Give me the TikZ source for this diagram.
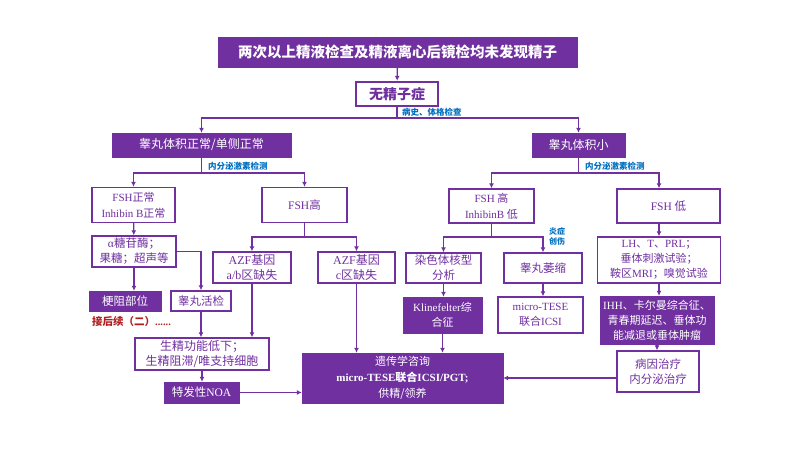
\documentclass[tikz,border=0pt]{standalone}
\usepackage{fontspec}
\setmainfont{Liberation Serif}
\newfontfamily\cjk{Noto Sans CJK SC}
\newcommand{\zh}[1]{{\cjk #1}}
\usetikzlibrary{arrows.meta,positioning,calc}
\definecolor{nopurple}{HTML}{7030A0}
\definecolor{noblue}{HTML}{0070C0}
\definecolor{nored}{HTML}{B01E1E}
\tikzset{
  flowline/.style={line width=1.4pt, draw=nopurple},
  flowarrow/.style={-{Latex[length=5pt,width=5pt]}, line width=1.4pt, draw=nopurple},
  boxsize/.style 2 args={minimum width=#1, minimum height=#2},
  darkbox/.style={draw=nopurple, fill=nopurple, text=white, align=center,
    inner sep=1pt, font=\fontsize{11.5}{15}\selectfont},
  lightbox/.style={draw=nopurple, line width=1.4pt, fill=white, text=nopurple,
    align=center, inner sep=1pt, font=\fontsize{11.5}{15}\selectfont},
  note/.style={text=noblue, inner sep=1pt, font=\fontsize{8.5}{10}\selectfont\bfseries},
  tailnote/.style={text=nored, inner sep=1pt, font=\fontsize{10.5}{12}\selectfont\bfseries}
}

\begin{document}
\begin{tikzpicture}[x=1pt, y=-1pt]
  \useasboundingbox (0,0) rectangle (800,450);
  \fill[white] (0,0) rectangle (800,450);

  % top
  \node[darkbox, boxsize={359pt}{30pt}, font=\fontsize{14.5}{16}\selectfont\bfseries] (title) at (397.5,52)
    {\zh{两次以上精液检查及精液离心后镜检均未发现精子}};
  \node[lightbox, boxsize={82pt}{24pt}, line width=2.4pt, font=\fontsize{14}{16}\selectfont\bfseries] (azo) at (397,94)
    {\zh{无精子症}};
  \node[darkbox, boxsize={179pt}{24pt}, font=\fontsize{12}{14}\selectfont] (tnorm) at (201.5,145)
    {\zh{睾丸体积正常/单侧正常}};
  \node[darkbox, boxsize={93pt}{24pt}, font=\fontsize{12}{14}\selectfont] (tsmall) at (578.5,145)
    {\zh{睾丸体积小}};

  % left branch
  \node[lightbox, boxsize={83pt}{35pt}, font=\fontsize{11}{16}\selectfont] (fshn) at (133.5,205)
    {FSH\zh{正常}\\Inhibin B\zh{正常}};
  \node[lightbox, boxsize={85pt}{35pt}] (fshh) at (304.5,205) {FSH\zh{高}};
  \node[lightbox, boxsize={84pt}{31pt}] (alpha) at (134,251.5)
    {α\zh{糖苷酶；}\\\zh{果糖；超声等}};
  \node[darkbox, boxsize={72pt}{20pt}] (obst) at (125,301) {\zh{梗阻部位}};
  \node[lightbox, boxsize={60pt}{20pt}] (biopsy) at (201,301) {\zh{睾丸活检}};
  \node[tailnote, anchor=west] (follow) at (91,322) {\zh{接后续（二）}......};
  \node[lightbox, boxsize={78pt}{31pt}, font=\fontsize{12}{15}\selectfont] (azfab) at (252,267.5)
    {AZF\zh{基因}\\a/b\zh{区缺失}};
  \node[lightbox, boxsize={77pt}{31pt}, font=\fontsize{12}{15}\selectfont] (azfc) at (356.5,267.5)
    {AZF\zh{基因}\\c\zh{区缺失}};
  \node[lightbox, boxsize={134pt}{32pt}, font=\fontsize{12}{15}\selectfont] (sperm) at (202,354)
    {\zh{生精功能低下；}\\\zh{生精阻滞/唯支持细胞}};
  \node[darkbox, boxsize={75pt}{21pt}] (idio) at (201.5,392.5) {\zh{特发性}NOA};
  \node[darkbox, boxsize={201pt}{50pt}, font=\fontsize{11}{16}\selectfont] (gene) at (402.5,378)
    {\zh{遗传学咨询}\\\textbf{micro-TESE\zh{联合}ICSI/PGT;}\\\zh{供精/领养}};

  % right branch
  \node[lightbox, boxsize={85pt}{34pt}, font=\fontsize{11}{16}\selectfont] (fshhi) at (491.5,206)
    {FSH \zh{高}\\InhibinB \zh{低}};
  \node[lightbox, boxsize={103pt}{34pt}] (fshl) at (668.5,206) {FSH \zh{低}};
  \node[lightbox, boxsize={75pt}{30pt}] (karyo) at (443.5,268) {\zh{染色体核型}\\\zh{分析}};
  \node[lightbox, boxsize={78pt}{30pt}] (atrophy) at (543,268) {\zh{睾丸萎缩}};
  \node[darkbox, boxsize={79pt}{36pt}, font=\fontsize{11}{15}\selectfont] (kfs) at (442.5,315)
    {Klinefelter\zh{综}\\\zh{合征}};
  \node[lightbox, boxsize={85pt}{36pt}, font=\fontsize{11}{15}\selectfont] (mtese) at (540.5,315)
    {micro-TESE\\\zh{联合}ICSI};
  \node[lightbox, boxsize={123pt}{46pt}, font=\fontsize{11}{15}\selectfont] (lhbox) at (659,260)
    {LH\zh{、}T\zh{、}PRL\zh{；}\\\zh{垂体刺激试验；}\\\zh{鞍区}MRI\zh{；嗅觉试验}};
  \node[darkbox, boxsize={114pt}{48pt}, font=\fontsize{11}{15}\selectfont] (ihh) at (657,320)
    {IHH\zh{、卡尔曼综合征、}\\\zh{青春期延迟、垂体功}\\\zh{能减退或垂体肿瘤}};
  \node[lightbox, boxsize={82pt}{41pt}] (cause) at (658,371.5)
    {\zh{病因治疗}\\\zh{内分泌治疗}};

  % labels on the branches
  \node[note, anchor=west] (lbhist) at (401,112) {\zh{病史、体格检查}};
  \node[note, anchor=west] (lbendol) at (207,166) {\zh{内分泌激素检测}};
  \node[note, anchor=west] (lbendor) at (584,166) {\zh{内分泌激素检测}};
  \node[note, align=center, font=\fontsize{8}{10}\selectfont\bfseries] (lbinj) at (557,236)
    {\zh{炎症}\\\zh{创伤}};

  % junctions
  \coordinate (jtop) at (397,118);
  \coordinate (jleft) at (201.5,173);
  \coordinate (jright) at (578.5,173);
  \coordinate (jfshh) at (304.5,237);
  \coordinate (jfshhi) at (491.5,237);
  \coordinate (jfshl) at (lhbox.north |- jright);

  % connectors
  \draw[flowarrow] (title) -- (azo);
  \draw[flowline] (azo) -- (jtop);
  \draw[flowarrow] (jtop) -| (tnorm);
  \draw[flowarrow] (jtop) -| (tsmall);

  \draw[flowline] (tnorm) -- (jleft);
  \draw[flowarrow] (jleft) -| (fshn);
  \draw[flowarrow] (jleft) -| (fshh);
  \draw[flowarrow] (fshn) -- (alpha);
  \draw[flowarrow] (alpha.south) -- (alpha.south |- obst.north);
  \draw[flowarrow] (alpha.east) -| (biopsy.north);
  \draw[flowline] (fshh) -- (jfshh);
  \draw[flowarrow] (jfshh) -| (azfab);
  \draw[flowarrow] (jfshh) -| (azfc);
  \draw[flowarrow] (biopsy.south) -- (biopsy.south |- sperm.north);
  \draw[flowarrow] (azfab.south) -- (azfab.south |- sperm.north);
  \draw[flowarrow] (sperm.south) -- (sperm.south |- idio.north);
  \draw[flowarrow] (idio.east) -- (idio.east -| gene.west);
  \draw[flowarrow] (azfc.south) -- (azfc.south |- gene.north);

  \draw[flowline] (tsmall) -- (jright);
  \draw[flowarrow] (jright) -| (fshhi);
  \draw[flowarrow] (jright) -- (jfshl) -- (jfshl |- fshl.north);
  \draw[flowline] (fshhi) -- (jfshhi);
  \draw[flowarrow] (jfshhi) -| (karyo);
  \draw[flowarrow] (jfshhi) -| (atrophy);
  \draw[flowarrow] (karyo.south) -- (karyo.south |- kfs.north);
  \draw[flowarrow] (atrophy.south) -- (atrophy.south |- mtese.north);
  \draw[flowarrow] (kfs.south) -- (kfs.south |- gene.north);
  \draw[flowarrow] (lhbox.north |- fshl.south) -- (lhbox.north);
  \draw[flowarrow] (lhbox.south) -- (lhbox.south |- ihh.north);
  \draw[flowarrow] (ihh.south) -- (ihh.south |- cause.north);
  \draw[flowarrow] (cause.west |- gene.east) -- (gene.east);
\end{tikzpicture}
\end{document}
